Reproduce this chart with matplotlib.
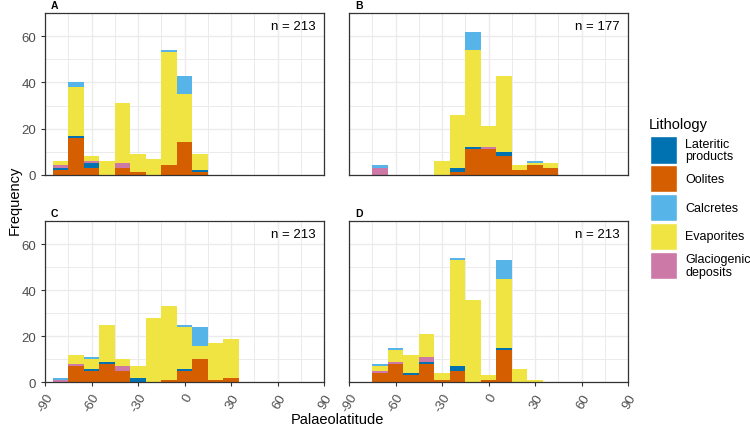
import matplotlib
matplotlib.use("Agg")
import matplotlib.pyplot as plt
from matplotlib.patches import Rectangle
import numpy as np

plt.rcParams["font.family"] = ["Liberation Sans", "DejaVu Sans"]

# bin centres (10 degree bins)
bins = [-80, -70, -60, -50, -40, -30, -20, -10, 0, 10, 20, 30, 40]

legend_keys = ["Lateritic", "Oolites", "Calcretes", "Evaporites", "Glaciogenic"]
legend_labels = ["Lateritic\nproducts", "Oolites", "Calcretes", "Evaporites", "Glaciogenic\ndeposits"]
colors = {"Lateritic": "#0072B2", "Oolites": "#D55E00", "Calcretes": "#56B4E9",
          "Evaporites": "#F0E442", "Glaciogenic": "#CC79A7"}
# stacking order, bottom to top
stack_order = ["Oolites", "Lateritic", "Glaciogenic", "Evaporites", "Calcretes"]

# counts per bin, panel A
a_lat = [1, 1, 2, 0, 0, 0, 0, 0, 0, 1, 0, 0, 0]
a_ool = [2, 16, 3, 0, 3, 1, 0, 4, 14, 1, 0, 0, 0]
a_cal = [0, 2, 0, 0, 0, 0, 0, 1, 8, 0, 0, 0, 0]
a_eva = [2, 21, 2, 6, 26, 8, 7, 49, 21, 7, 0, 0, 0]
a_gla = [1, 0, 1, 0, 2, 0, 0, 0, 0, 0, 0, 0, 0]

# panel B
b_lat = [0, 0, 0, 0, 0, 0, 2, 1, 0, 2, 0, 0, 0]
b_ool = [0, 0, 0, 0, 0, 0, 1, 11, 11, 8, 2, 4, 3]
b_cal = [0, 1, 0, 0, 0, 0, 0, 8, 0, 0, 0, 1, 0]
b_eva = [0, 0, 0, 0, 0, 6, 23, 42, 9, 33, 2, 1, 2]
b_gla = [0, 3, 0, 0, 0, 0, 0, 0, 1, 0, 0, 0, 0]

# panel C
c_lat = [0, 0, 1, 1, 0, 2, 0, 0, 1, 0, 0, 0, 0]
c_ool = [0, 7, 5, 8, 5, 0, 0, 1, 5, 10, 1, 2, 0]
c_cal = [1, 0, 1, 0, 0, 0, 0, 0, 1, 8, 0, 0, 0]
c_eva = [0, 4, 4, 16, 3, 5, 28, 32, 18, 6, 16, 17, 0]
c_gla = [1, 1, 0, 0, 2, 0, 0, 0, 0, 0, 0, 0, 0]

# panel D
d_lat = [0, 0, 0, 1, 1, 0, 2, 0, 0, 1, 0, 0, 0]
d_ool = [0, 4, 8, 3, 8, 1, 5, 0, 1, 14, 0, 0, 0]
d_cal = [0, 1, 1, 0, 0, 0, 1, 0, 0, 8, 0, 0, 0]
d_eva = [0, 2, 5, 8, 10, 3, 46, 36, 2, 30, 6, 1, 0]
d_gla = [0, 1, 1, 0, 2, 0, 0, 0, 0, 0, 0, 0, 0]

panels = {
    "A": {"Lateritic": a_lat, "Oolites": a_ool, "Calcretes": a_cal, "Evaporites": a_eva, "Glaciogenic": a_gla},
    "B": {"Lateritic": b_lat, "Oolites": b_ool, "Calcretes": b_cal, "Evaporites": b_eva, "Glaciogenic": b_gla},
    "C": {"Lateritic": c_lat, "Oolites": c_ool, "Calcretes": c_cal, "Evaporites": c_eva, "Glaciogenic": c_gla},
    "D": {"Lateritic": d_lat, "Oolites": d_ool, "Calcretes": d_cal, "Evaporites": d_eva, "Glaciogenic": d_gla},
}

W, H = 750, 427
fig = plt.figure(figsize=(W / 100, H / 100), dpi=100)

# panel boxes in pixels: left, top, width, height
boxes = {"A": (45, 14.3, 279, 161.4), "B": (349, 14.3, 279, 161.4),
         "C": (45, 222.3, 279, 161.0), "D": (349, 222.3, 279, 161.0)}

grid_col = "#EBEBEB"
for name, (l, t, w, h) in boxes.items():
    ax = fig.add_axes([l / W, 1 - (t + h) / H, w / W, h / H])
    data = panels[name]
    bottom = np.zeros(len(bins))
    for lith in stack_order:
        vals = np.array(data[lith])
        ax.bar(bins, vals, width=10, bottom=bottom, color=colors[lith], linewidth=0, zorder=2)
        bottom += vals
    n = int(bottom.sum())

    ax.set_xlim(-90, 90)
    ax.set_ylim(0, 70)
    ax.set_xticks(np.arange(-90, 91, 30))
    ax.set_xticks(np.arange(-75, 90, 30), minor=True)
    ax.set_yticks([0, 20, 40, 60])
    ax.set_yticks([10, 30, 50, 70], minor=True)
    ax.grid(which="major", color=grid_col, linewidth=1.0, zorder=0)
    ax.grid(which="minor", color=grid_col, linewidth=0.7, zorder=0)
    ax.set_axisbelow(True)
    for s in ax.spines.values():
        s.set_color("#333333")
        s.set_linewidth(0.9)
    ax.tick_params(which="minor", length=0)
    ax.tick_params(which="major", color="#333333", length=3, width=0.8,
                   labelcolor="#4D4D4D", labelsize=9.5)

    if name in ("A", "B"):
        ax.tick_params(axis="x", which="major", length=0, labelbottom=False)
    else:
        ax.set_xticklabels([str(v) for v in np.arange(-90, 91, 30)], rotation=60,
                           ha="right", va="top", rotation_mode="anchor")
    if name in ("B", "D"):
        ax.tick_params(axis="y", which="major", length=0, labelleft=False)

    ax.text(0.97, 0.96, f"n = {n}", transform=ax.transAxes, ha="right", va="top",
            fontsize=9.5, color="black")
    fig.text((l + 6) / W, 1 - (t - 3) / H, name, ha="left", va="bottom",
             fontsize=7.5, fontweight="bold")

fig.text(8 / W, 1 - 200 / H, "Frequency", rotation=90, ha="left", va="center", fontsize=10.5)
fig.text(337 / W, 1 - 420 / H, "Palaeolatitude", ha="center", va="center", fontsize=10.5)

# legend drawn by hand to match ggplot key sizes
fig.text(649 / W, 1 - 125 / H, "Lithology", ha="left", va="center", fontsize=10.5)
for i, (key, lab) in enumerate(zip(legend_keys, legend_labels)):
    top = 137 + i * 28.9
    fig.patches.append(Rectangle((649.5 / W, 1 - (top + 27.5) / H), 27.5 / W, 27.5 / H,
                                 transform=fig.transFigure, facecolor=colors[key],
                                 edgecolor="white", linewidth=1))
    fig.text(685 / W, 1 - (top + 13.75) / H, lab, ha="left", va="center",
             fontsize=9, linespacing=1.05)

fig.savefig("out.png", dpi=100)
